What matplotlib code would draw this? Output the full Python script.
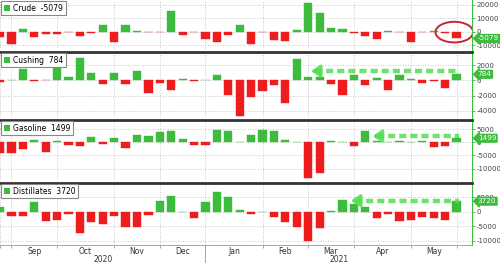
import numpy as np
import pandas as pd
import matplotlib.pyplot as plt
from matplotlib import transforms
from matplotlib.patches import Ellipse, Patch

# weekly EIA inventory changes (thousand barrels), one bar per week
weeks = pd.date_range("2020-08-28", "2021-06-04", freq="7D")

crude = [-3900, -9000, 2200, -4100, -1500, -1900, -150, -3400, -700, 4600,
         -7800, 4600, 200, -300, -400, 15300, -2900, -500, -5600, -7800,
         -2900, 4600, -9000, -400, -6300, -6800, 1200, 21400, 13600, 2500,
         1700, -1000, -3200, -5600, 100, -100, -7500, -300, 300, -1200, -5079]
cushing = [-170, 50, 1490, -130, -20, 1700, 440, 2880, 920, -440,
           920, -480, 1220, -1610, -310, -1310, 170, -50, 30, 740,
           -1920, -4620, -2180, -1400, -610, -3010, 2790, 440, 440, -520,
           -1880, 700, -650, 260, -1220, 700, 220, -350, -100, -960, 784]
gasoline = [-4200, -4200, -2600, 800, -3900, 500, -1100, -1300, 2100, -600,
            1700, -2100, 2700, 2400, 3800, 4300, 1100, -1100, -1100, 4600,
            4400, 200, 2700, 4600, 4400, 700, 100, -13500, -11600, 400,
            200, -1400, 4300, 300, 100, 300, 200, 400, -1700, -1500, 1499]
distillates = [1600, -1400, -1400, 3300, -3100, -2800, -600, -7400, -3600, -4300,
               -1300, -5300, -5100, -1150, 3800, 5600, 100, -2100, 3600, 7000,
               5300, 800, -600, 100, -1600, -3300, -5100, -10000, -5400, 300,
               4100, 2900, 1600, -1900, -800, -3000, -2800, -1600, -2200, -2600, 3720]

names = ["Crude", "Cushing", "Gasoline", "Distillates"]
series = [crude, cushing, gasoline, distillates]
ylims = [(-13650, 23400), (-4930, 3700), (-14750, 8440), (-11380, 10000)]
yticks = [[-10000, 0, 10000, 20000], [-4000, -2000, 0, 2000],
          [-10000, -5000, 0, 5000], [-10000, -5000, 0, 5000]]
# dashed "flat" arrows: (start position, level), None for crude
arrows = [None, (26, 1200), (31.4, 2300), (29.5, 3900)]

green = "#3dbb3d"
red = "#ee1c1c"
grid_c = "#b8b8b8"

# panel rows in pixels (top, bottom) of a 500x263 figure
rows = [(0, 50), (52, 118), (120, 181), (183, 245)]

x = np.arange(-1, len(weeks) - 1)
xlim = (-0.87, 40.35)

# first bar of every month -> gridline, month label between them
month_starts = [i for i in range(len(weeks)) if i == 0 or weeks[i].month != weeks[i - 1].month]
start_pos = [x[i] for i in month_starts]

fig = plt.figure(figsize=(5, 2.63), dpi=100)
plt.rcParams['font.family'] = ['DejaVu Sans']

axes = []
for n in range(4):
    top, bot = rows[n]
    ax = fig.add_axes([0, (263 - bot) / 263, 472 / 500, (bot - top) / 263])
    axes.append(ax)
    vals = np.array(series[n])
    cols = [green if v >= 0 else red for v in vals]
    ax.bar(x, vals, width=0.72, color=cols, edgecolor=cols, linewidth=0.3, zorder=3)

    ax.set_xlim(xlim)
    ax.set_ylim(ylims[n])
    ax.set_yticks(yticks[n])
    ax.set_yticklabels([str(t) for t in yticks[n]])
    ax.yaxis.tick_right()
    ax.tick_params(axis='y', direction='out', length=2, width=0.6, color=green,
                   labelcolor='#444444', labelsize=5, pad=1)
    ax.set_xticks(start_pos)
    ax.set_xticklabels([])
    ax.tick_params(axis='x', length=0)
    ax.grid(True, color=grid_c, linestyle=(0, (1, 2)), linewidth=0.6, zorder=0)

    for s in ['left', 'bottom']:
        ax.spines[s].set_visible(False)
    ax.spines['right'].set_color(green)
    ax.spines['right'].set_linewidth(0.8)
    if n == 0:
        ax.spines['top'].set_visible(False)
    else:
        ax.spines['top'].set_color('#333333')
        ax.spines['top'].set_linewidth(2)

    last = series[n][-1]
    leg = ax.legend([Patch(facecolor=green)], ["%s  %d" % (names[n], last)],
                    loc='upper left', borderaxespad=0.15, fontsize=5.5,
                    handlelength=0.8, handleheight=0.8, handletextpad=0.4,
                    borderpad=0.35, fancybox=False, framealpha=1)
    leg.get_frame().set_edgecolor('#888888')
    leg.get_frame().set_linewidth(0.8)
    leg.set_zorder(6)

    tr = transforms.blended_transform_factory(ax.transAxes, ax.transData)
    ax.text(1.012, last, str(last), transform=tr, ha='left', va='center',
            fontsize=5.2, color='white', zorder=7, clip_on=False,
            bbox=dict(boxstyle='larrow,pad=0.12', fc=green, ec=green))

    if arrows[n] is not None:
        x0, lev = arrows[n]
        ax.plot([x0 + 0.6, x[-1] + 0.2], [lev, lev], color='#55dd55', lw=3.2,
                ls=(0, (1.6, 0.9)), alpha=0.85, zorder=5, solid_capstyle='butt')
        ax.annotate('', xy=(x0, lev), xytext=(x0 + 1.2, lev), zorder=5,
                    arrowprops=dict(arrowstyle='-|>,head_width=0.35,head_length=0.5',
                                    color='#55dd55', lw=2.5, alpha=0.85))

# red circle round the latest crude draws
ax0 = axes[0]
ax0.add_patch(Ellipse(((x[-1] + x[-2]) / 2 + 0.3, -400), 3.3, 15300, fill=False,
                      edgecolor='#cc2233', linewidth=1.4, zorder=8))

# bottom axis: month and year labels
axb = axes[-1]
axb.spines['bottom'].set_visible(True)
axb.spines['bottom'].set_color('#999999')
axb.spines['bottom'].set_linewidth(0.6)
axb.tick_params(axis='x', length=2.5, width=0.6, color='#999999')
trb = transforms.blended_transform_factory(axb.transData, axb.transAxes)
for j in range(len(month_starts) - 1):
    a, b = start_pos[j], start_pos[j + 1]
    if a < xlim[0]:
        continue
    axb.text((a + b) / 2, -0.1, weeks[month_starts[j]].strftime('%b'),
             transform=trb, ha='center', va='center', fontsize=5.5, color='#333333')
jan = [p for p, i in zip(start_pos, month_starts) if weeks[i].month == 1][0]
axb.plot([jan, jan], [0, -0.3], transform=trb, color='#999999', lw=0.6, clip_on=False)
axb.text((xlim[0] + jan) / 2, -0.23, "2020", transform=trb, ha='center', va='center',
         fontsize=5.5, color='#333333')
axb.text((jan + xlim[1]) / 2, -0.23, "2021", transform=trb, ha='center', va='center',
         fontsize=5.5, color='#333333')

fig.savefig("out.png", dpi=100)
